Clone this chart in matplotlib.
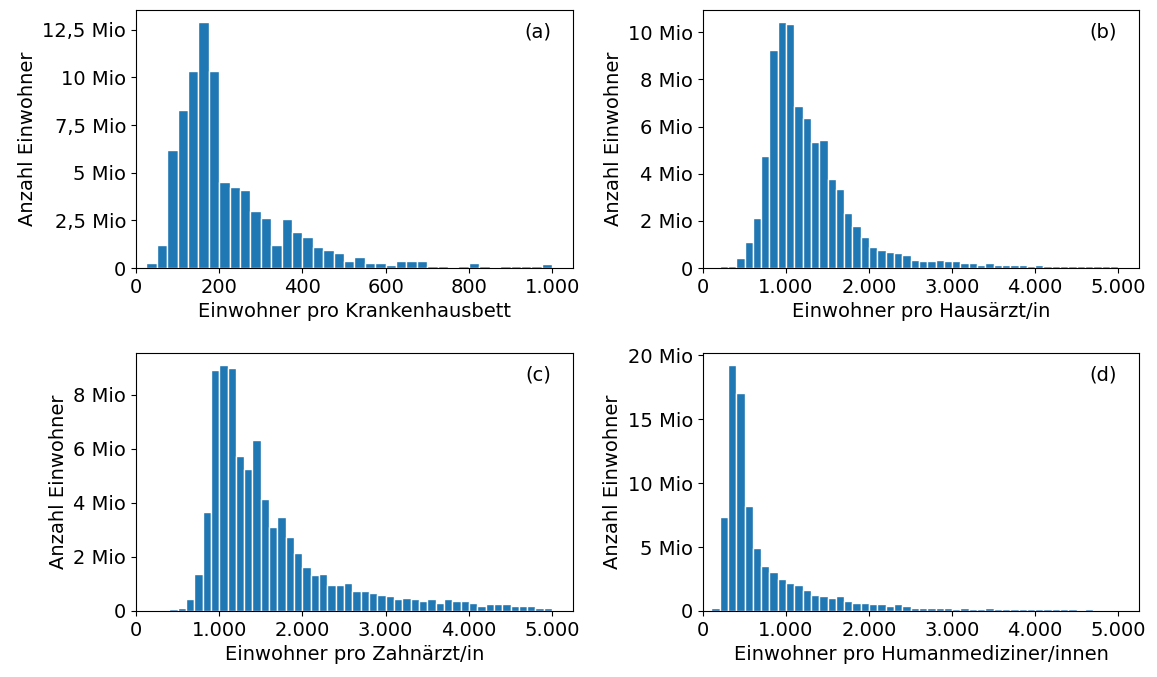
import numpy as np
import matplotlib
matplotlib.use("Agg")
import matplotlib.pyplot as plt
from matplotlib.ticker import FuncFormatter, MultipleLocator

# Anzahl Einwohner je Klasse, in Mio
krankenhaus_mio = [0, 0.26, 1.22, 6.19, 8.31, 10.35, 12.89, 10.35, 4.49, 4.23,
                   4.07, 2.97, 2.63, 1.2, 2.56, 1.9, 1.62, 1.11, 0.96, 0.77,
                   0.35, 0.59, 0.26, 0.26, 0.17, 0.35, 0.35, 0.35, 0.1, 0.1,
                   0, 0.1, 0.26, 0.1, 0, 0.1, 0.1, 0.1, 0.1, 0.19]
hausarzt_mio = [0, 0, 0.08, 0.08, 0.42, 1.11, 2.12, 4.74, 9.25, 10.42,
                10.35, 6.85, 6.37, 5.34, 5.41, 3.77, 3.36, 2.33, 1.79, 1.31,
                0.9, 0.77, 0.69, 0.62, 0.56, 0.35, 0.28, 0.28, 0.35, 0.28,
                0.28, 0.21, 0.21, 0.14, 0.21, 0.14, 0.14, 0.14, 0.14, 0.08,
                0.14, 0.08, 0.08, 0.08, 0.08, 0.08, 0.08, 0.08, 0.08, 0.08]
zahnarzt_mio = [0, 0, 0, 0, 0.07, 0.12, 0.43, 1.38, 3.65, 8.89,
                9.08, 8.98, 5.74, 5.26, 6.32, 4.12, 3.11, 3.46, 2.75, 2.15,
                1.61, 1.32, 1.38, 0.95, 0.95, 1.02, 0.73, 0.73, 0.66, 0.6,
                0.54, 0.43, 0.49, 0.43, 0.37, 0.43, 0.31, 0.43, 0.37, 0.37,
                0.31, 0.18, 0.24, 0.24, 0.24, 0.18, 0.18, 0.18, 0.12, 0.12]
humanmed_mio = [0, 0.26, 7.36, 19.22, 17.07, 8.24, 4.95, 3.55, 3.06, 2.54,
                2.18, 2.05, 1.66, 1.27, 1.17, 1.04, 1.17, 0.78, 0.65, 0.65,
                0.52, 0.52, 0.39, 0.52, 0.39, 0.26, 0.26, 0.26, 0.26, 0.26,
                0.16, 0.26, 0.16, 0.16, 0.26, 0.16, 0.16, 0.16, 0.16, 0.16,
                0.16, 0.16, 0.16, 0.16, 0.16, 0, 0.16, 0, 0, 0]

bett_edges = np.linspace(0, 1000, 41)
arzt_edges = np.linspace(0, 5000, 51)

x_labels = [
    "Einwohner pro Krankenhausbett",
    "Einwohner pro Hausärzt/in",
    "Einwohner pro Zahnärzt/in",
    "Einwohner pro Humanmediziner/innen",
]
panel_tags = ["(a)", "(b)", "(c)", "(d)"]


def fmt_number(value):
    if abs(value - round(value)) < 1e-9:
        return f"{int(round(value)):,}".replace(",", ".")
    return f"{value:g}".replace(".", ",")


def fmt_mio(value, _pos):
    if value == 0:
        return "0"
    return f"{fmt_number(value / 1e6)} Mio"


def fmt_x(value, _pos):
    return fmt_number(value)


plt.rcParams["font.family"] = "DejaVu Sans"
plt.rcParams["font.size"] = 14

fig = plt.figure(figsize=(11.57, 6.77), dpi=100)
positions = [
    [0.1175, 0.6041, 0.3777, 0.3811],
    [0.6076, 0.6041, 0.3768, 0.3811],
    [0.1175, 0.0975, 0.3777, 0.3811],
    [0.6076, 0.0975, 0.3768, 0.3811],
]
# (Werte, Klassengrenzen, x-Maximum, x-Tickabstand, y-Tickabstand)
series = [
    (krankenhaus_mio, bett_edges, 1050, 200, 2.5e6),
    (hausarzt_mio, arzt_edges, 5250, 1000, 2e6),
    (zahnarzt_mio, arzt_edges, 5250, 1000, 2e6),
    (humanmed_mio, arzt_edges, 5250, 1000, 5e6),
]

for pos, (values, edges, xmax, xstep, ystep), xlabel, tag in zip(
        positions, series, x_labels, panel_tags):
    ax = fig.add_axes(pos)
    weights = np.asarray(values) * 1e6
    ax.hist(edges[:-1], bins=edges, weights=weights, color="#1f77b4",
            edgecolor="white", linewidth=1.0)
    ax.set_xlim(0, xmax)
    ax.xaxis.set_major_locator(MultipleLocator(xstep))
    ax.yaxis.set_major_locator(MultipleLocator(ystep))
    ax.yaxis.set_major_formatter(FuncFormatter(fmt_mio))
    ax.xaxis.set_major_formatter(FuncFormatter(fmt_x))
    ax.set_xlabel(xlabel)
    ax.set_ylabel("Anzahl Einwohner")
    ax.text(0.95, 0.95, tag, transform=ax.transAxes, ha="right", va="top")

fig.savefig("out.png", dpi=100)
